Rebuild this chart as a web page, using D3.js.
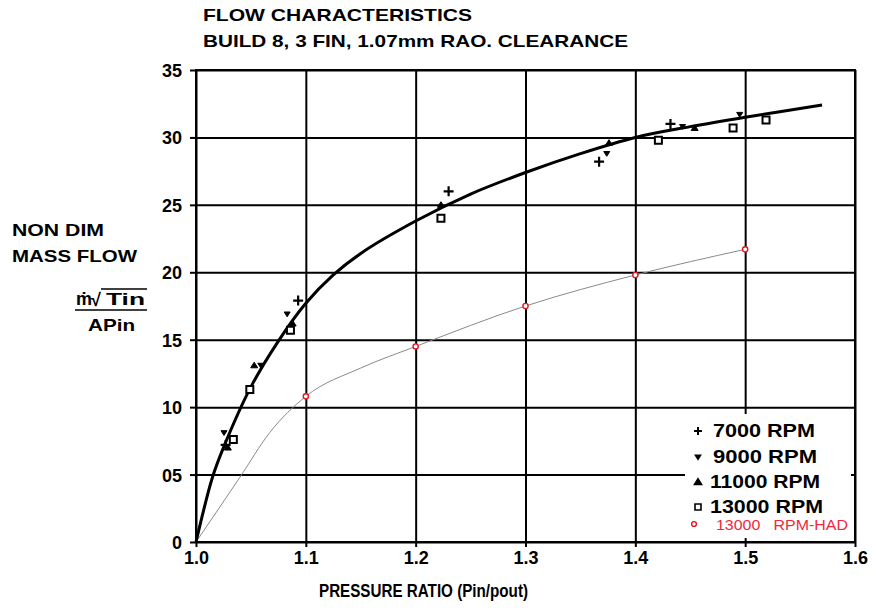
<!DOCTYPE html>
<html>
<head>
<meta charset="utf-8">
<script src="https://cdn.jsdelivr.net/npm/d3@7"></script>
<style>
  html, body { margin: 0; padding: 0; background: #fff; }
  svg { display: block; }
  text { font-family: "Liberation Sans", Arial, Helvetica, sans-serif; }
</style>
</head>
<body>
<svg id="chart" width="876" height="610"></svg>
<script>
// ---- data ----
const xTickValues = [1.0, 1.1, 1.2, 1.3, 1.4, 1.5, 1.6];
const xTickLabels = ["1.0", "1.1", "1.2", "1.3", "1.4", "1.5", "1.6"];
const yTickValues = [0, 5, 10, 15, 20, 25, 30, 35];
const yTickLabels = ["0", "05", "10", "15", "20", "25", "30", "35"];

// measured points per rotor speed: [pressure ratio, non-dim mass flow]
const rpm7000 = [[1.027, 7.2], [1.093, 17.9], [1.230, 26.0], [1.367, 28.2], [1.432, 31.0]];
const rpm9000 = [[1.0255, 8.1], [1.059, 13.1], [1.083, 16.9], [1.374, 28.8], [1.443, 30.8], [1.495, 31.7]];
const rpm11000 = [[1.029, 7.0], [1.053, 13.1], [1.088, 16.2], [1.223, 25.0], [1.376, 29.6], [1.454, 30.7]];
const rpm13000 = [[1.034, 7.6], [1.049, 11.3], [1.086, 15.7], [1.223, 24.0], [1.421, 29.8], [1.489, 30.7], [1.519, 31.3]];

// faired characteristic through the test points
const testCurve = [[1.0, 0], [1.015, 4.8], [1.025, 7.0], [1.05, 11.5], [1.075, 14.9], [1.1, 17.7],
  [1.125, 19.8], [1.15, 21.4], [1.2, 23.8], [1.25, 25.8], [1.3, 27.4], [1.35, 28.8], [1.4, 30.0],
  [1.45, 30.8], [1.5, 31.5], [1.57, 32.4]];

// HAD prediction at 13000 RPM
const hadPoints = [[1.1, 10.8], [1.2, 14.5], [1.3, 17.5], [1.4, 19.8], [1.5, 21.7]];
const hadCurve = [[1.0, 0], [1.04, 4.8], [1.067, 8.1], [1.1, 10.8], [1.15, 12.9], [1.2, 14.5],
  [1.3, 17.5], [1.4, 19.8], [1.5, 21.7]];

const legendLabels = ["7000 RPM", "9000 RPM", "11000 RPM", "13000 RPM", "13000   RPM-HAD"];

// ---- layout ----
const svg = d3.select("#chart");
const plotL = 196, plotR = 855, plotT = 70, plotB = 542;
const x = d3.scaleLinear().domain([1.0, 1.6]).range([plotL, plotR]);
const y = d3.scaleLinear().domain([0, 35]).range([plotB, plotT]);

// grid lines
svg.append("g")
  .attr("transform", `translate(0,${plotB})`)
  .call(d3.axisBottom(x).tickValues(xTickValues).tickSize(-(plotB - plotT)).tickFormat(""))
  .call(g => g.select(".domain").remove())
  .call(g => g.selectAll("line").attr("stroke", "#000").attr("stroke-width", 2));
svg.append("g")
  .attr("transform", `translate(${plotL},0)`)
  .call(d3.axisLeft(y).tickValues(yTickValues).tickSize(-(plotR - plotL)).tickFormat(""))
  .call(g => g.select(".domain").remove())
  .call(g => g.selectAll("line").attr("stroke", "#000").attr("stroke-width", 2));

// frame
svg.append("rect")
  .attr("x", plotL).attr("y", plotT)
  .attr("width", plotR - plotL).attr("height", plotB - plotT)
  .attr("fill", "none").attr("stroke", "#000").attr("stroke-width", 2);

// outer ticks with labels
const xAxis = svg.append("g")
  .attr("transform", `translate(0,${plotB})`)
  .call(d3.axisBottom(x).tickValues(xTickValues).tickSize(5).tickPadding(4)
    .tickFormat((d, i) => xTickLabels[i]));
xAxis.select(".domain").remove();
xAxis.selectAll("line").attr("stroke", "#000").attr("stroke-width", 2);
xAxis.selectAll("text").attr("fill", "#000").attr("font-size", 18).attr("font-weight", "bold");

const yAxis = svg.append("g")
  .attr("transform", `translate(${plotL},0)`)
  .call(d3.axisLeft(y).tickValues(yTickValues).tickSize(6).tickPadding(8)
    .tickFormat((d, i) => yTickLabels[i]));
yAxis.select(".domain").remove();
yAxis.selectAll("line").attr("stroke", "#000").attr("stroke-width", 2);
yAxis.selectAll("text").attr("fill", "#000").attr("font-size", 18).attr("font-weight", "bold")
  .attr("dy", "0.36em");

// curves
const thinLine = d3.line().x(d => x(d[0])).y(d => y(d[1])).curve(d3.curveMonotoneX);
const thickLine = d3.line().x(d => x(d[0])).y(d => y(d[1])).curve(d3.curveCatmullRom.alpha(0.5));
svg.append("path").datum(hadCurve).attr("d", thinLine)
  .attr("fill", "none").attr("stroke", "#8a8a8a").attr("stroke-width", 1);
svg.append("path").datum(testCurve).attr("d", thickLine)
  .attr("fill", "none").attr("stroke", "#000").attr("stroke-width", 3);

// marker shapes
function plusPath(s) { return `M${-s},0H${s}M0,${-s}V${s}`; }
function triDownPath(s) { return `M${-s},${-s * 0.7}L${s},${-s * 0.7}L0,${s * 0.9}Z`; }
function triUpPath(s) { return `M${-s},${s * 0.7}L${s},${s * 0.7}L0,${-s * 0.9}Z`; }
function squarePath(s) { return `M${-s},${-s}H${s}V${s}H${-s}Z`; }

function drawMarks(data, pathFn, size, fill, stroke, sw) {
  svg.append("g").selectAll("path").data(data).join("path")
    .attr("transform", d => `translate(${x(d[0])},${y(d[1])})`)
    .attr("d", pathFn(size))
    .attr("fill", fill).attr("stroke", stroke).attr("stroke-width", sw);
}
drawMarks(rpm7000, plusPath, 5, "none", "#000", 2.2);
drawMarks(rpm9000, triDownPath, 3, "#000", "#000", 1);
drawMarks(rpm11000, triUpPath, 3.5, "#000", "#000", 1);
drawMarks(rpm13000, squarePath, 3.5, "#fff", "#000", 2);

svg.append("g").selectAll("circle").data(hadPoints).join("circle")
  .attr("cx", d => x(d[0])).attr("cy", d => y(d[1])).attr("r", 2.6)
  .attr("fill", "#fff").attr("stroke", "#e8141e").attr("stroke-width", 1.4);

// legend
const lg = svg.append("g");
lg.append("rect").attr("x", 685).attr("y", 414).attr("width", 166).attr("height", 124).attr("fill", "#fff");
const legendY = [437, 463, 488, 513];
const legendShapes = [plusPath(4), triDownPath(2.5), triUpPath(3.5), squarePath(3)];
const legendFill = ["none", "#000", "#000", "#fff"];
const legendTextLen = [102, 104, 110, 113];
legendY.forEach((ly, i) => {
  lg.append("path").attr("transform", `translate(${698},${ly - 6})`)
    .attr("d", legendShapes[i]).attr("fill", legendFill[i])
    .attr("stroke", "#000").attr("stroke-width", i === 0 ? 2 : 1.6);
  lg.append("text").attr("x", i >= 2 ? 710 : 713).attr("y", ly)
    .attr("font-size", 18).attr("font-weight", "bold").attr("fill", "#000")
    .attr("textLength", legendTextLen[i]).attr("lengthAdjust", "spacingAndGlyphs")
    .text(legendLabels[i]);
});
lg.append("circle").attr("cx", 694).attr("cy", 524).attr("r", 2.4)
  .attr("fill", "#fff").attr("stroke", "#e8141e").attr("stroke-width", 1.4);
lg.append("text").attr("x", 716).attr("y", 530)
  .attr("font-size", 14).attr("fill", "#f0283c")
  .style("white-space", "pre")
  .attr("textLength", 132).attr("lengthAdjust", "spacingAndGlyphs")
  .text(legendLabels[4]);

// titles
svg.append("text").attr("x", 203).attr("y", 21).attr("font-size", 17).attr("font-weight", "bold")
  .attr("textLength", 269).attr("lengthAdjust", "spacingAndGlyphs").text("FLOW CHARACTERISTICS");
svg.append("text").attr("x", 203).attr("y", 47).attr("font-size", 17).attr("font-weight", "bold")
  .attr("textLength", 425).attr("lengthAdjust", "spacingAndGlyphs").text("BUILD 8, 3 FIN, 1.07mm RAO. CLEARANCE");

// x axis title
svg.append("text").attr("x", 319).attr("y", 597).attr("font-size", 19).attr("font-weight", "bold")
  .attr("textLength", 209).attr("lengthAdjust", "spacingAndGlyphs").text("PRESSURE RATIO (Pin/pout)");

// y axis title
svg.append("text").attr("x", 12).attr("y", 236).attr("font-size", 17).attr("font-weight", "bold")
  .attr("textLength", 92).attr("lengthAdjust", "spacingAndGlyphs").text("NON DIM");
svg.append("text").attr("x", 12).attr("y", 262).attr("font-size", 17).attr("font-weight", "bold")
  .attr("textLength", 125).attr("lengthAdjust", "spacingAndGlyphs").text("MASS FLOW");
svg.append("text").attr("x", 76).attr("y", 305).attr("font-size", 18).attr("font-weight", "bold").text("ṁ");
svg.append("text").attr("x", 91).attr("y", 306).attr("font-size", 18).attr("font-weight", "bold").text("√");
svg.append("text").attr("x", 106).attr("y", 305).attr("font-size", 17).attr("font-weight", "bold")
  .attr("textLength", 39).attr("lengthAdjust", "spacingAndGlyphs").text("Tin");
svg.append("line").attr("x1", 101).attr("x2", 147).attr("y1", 289).attr("y2", 289)
  .attr("stroke", "#000").attr("stroke-width", 1.5);
svg.append("line").attr("x1", 75).attr("x2", 147).attr("y1", 310).attr("y2", 310)
  .attr("stroke", "#000").attr("stroke-width", 1.5);
svg.append("text").attr("x", 88).attr("y", 331).attr("font-size", 17).attr("font-weight", "bold")
  .attr("textLength", 47).attr("lengthAdjust", "spacingAndGlyphs").text("APin");
</script>
</body>
</html>
